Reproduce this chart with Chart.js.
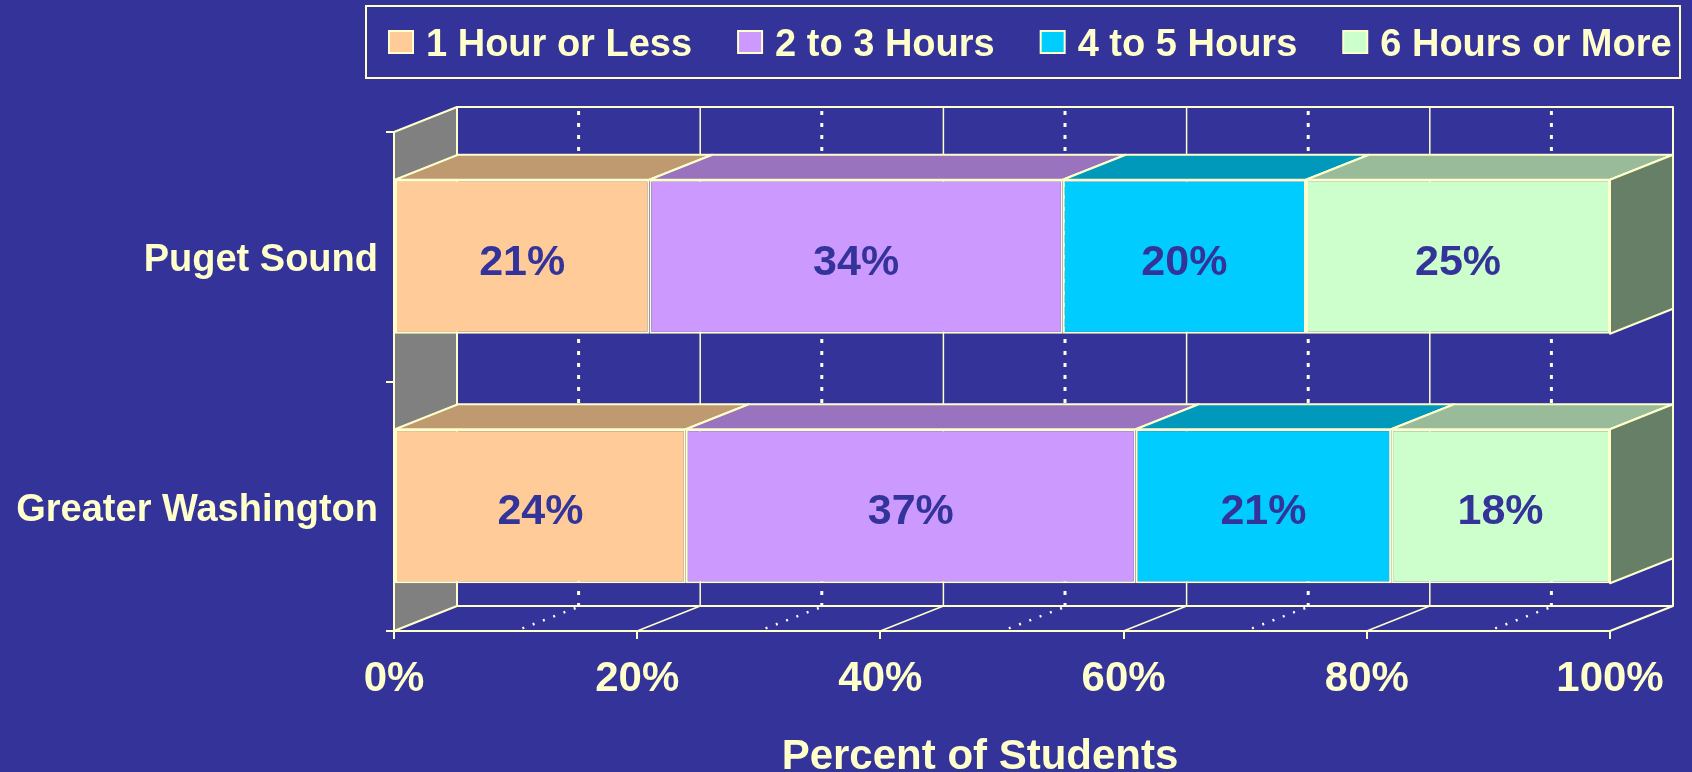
<!DOCTYPE html>
<html>
<head>
<meta charset="utf-8">
<title>Percent of Students</title>
<script src="https://cdn.jsdelivr.net/npm/chart.js@4.4.1/dist/chart.umd.min.js"></script>
<style>
  html, body { margin: 0; padding: 0; background: #333399; overflow: hidden; }
  #wrap { width: 1692px; height: 772px; position: relative; }
</style>
</head>
<body>
<div id="wrap"><canvas id="chart"></canvas></div>
<script>
// ---- data ----
const categories  = ["Puget Sound", "Greater Washington"];
const seriesNames = ["1 Hour or Less", "2 to 3 Hours", "4 to 5 Hours", "6 Hours or More"];
const oneHourOrLess = [21, 24];
const twoToThree    = [34, 37];
const fourToFive    = [20, 21];
const sixOrMore     = [25, 18];
const xTicks     = [0, 20, 40, 60, 80, 100];
const minorTicks = [10, 30, 50, 70, 90];
const axisTitle  = "Percent of Students";

// ---- style ----
const FRONT = ["#FFCC99", "#CC99FF", "#00CCFF", "#CCFFCC"];
const TOP   = ["#BF9970", "#9973BD", "#0099BB", "#99BB99"];
const SIDE  = "#667F66";
const WALL  = "#808080";
const INK   = "#FFFFCC";
const BG    = "#333399";
const FONT  = "'Liberation Sans', Arial, sans-serif";
const DX = 63, DY = 25;   // depth of the 3d box

const values = [oneHourOrLess, twoToThree, fourToFive, sixOrMore];

// back wall, side wall, floor, bar tops and the right end face
const box3d = {
  id: "box3d",
  beforeDatasetsDraw(chart) {
    const { ctx, chartArea: a, scales: { x } } = chart;
    const L = a.left, R = a.right, T = a.top, B = a.bottom;
    ctx.save();
    ctx.lineJoin = "round";
    ctx.strokeStyle = INK;
    ctx.lineWidth = 2;

    // left wall
    ctx.beginPath();
    ctx.moveTo(L, T); ctx.lineTo(L + DX, T - DY); ctx.lineTo(L + DX, B - DY); ctx.lineTo(L, B);
    ctx.closePath();
    ctx.fillStyle = WALL; ctx.fill(); ctx.stroke();

    // back wall outline + floor right edge
    ctx.beginPath();
    ctx.moveTo(L + DX, T - DY); ctx.lineTo(R + DX, T - DY); ctx.lineTo(R + DX, B - DY); ctx.lineTo(L + DX, B - DY);
    ctx.moveTo(R, B); ctx.lineTo(R + DX, B - DY);
    ctx.stroke();

    // major gridlines: back wall + floor
    ctx.lineWidth = 1.5;
    xTicks.slice(1, -1).forEach(v => {
      const px = x.getPixelForValue(v);
      ctx.beginPath();
      ctx.moveTo(px + DX, T - DY); ctx.lineTo(px + DX, B - DY); ctx.lineTo(px, B);
      ctx.stroke();
    });

    // minor dotted gridlines
    ctx.strokeStyle = "#FFFFEE";
    minorTicks.forEach(v => {
      const px = x.getPixelForValue(v);
      ctx.setLineDash([4, 8]); ctx.lineWidth = 3;
      ctx.beginPath(); ctx.moveTo(px + DX, T - DY + 4); ctx.lineTo(px + DX, B - DY); ctx.stroke();
      ctx.setLineDash([2, 9]); ctx.lineWidth = 2.5;
      ctx.beginPath(); ctx.moveTo(px + DX - 3, B - DY + 2); ctx.lineTo(px, B); ctx.stroke();
    });
    ctx.setLineDash([]);

    // bar tops and end face
    ctx.strokeStyle = INK;
    ctx.lineWidth = 2;
    const last = chart.data.datasets.length - 1;
    chart.data.datasets.forEach((ds, i) => {
      chart.getDatasetMeta(i).data.forEach(bar => {
        const p = bar.getProps(["x", "y", "base", "height"], true);
        const x0 = Math.min(p.base, p.x), x1 = Math.max(p.base, p.x);
        const top = p.y - p.height / 2, bot = p.y + p.height / 2;
        ctx.beginPath();
        ctx.moveTo(x0, top); ctx.lineTo(x1, top); ctx.lineTo(x1 + DX, top - DY); ctx.lineTo(x0 + DX, top - DY);
        ctx.closePath();
        ctx.fillStyle = TOP[i]; ctx.fill(); ctx.stroke();
        if (i === last) {
          ctx.beginPath();
          ctx.moveTo(x1, top); ctx.lineTo(x1 + DX, top - DY); ctx.lineTo(x1 + DX, bot - DY); ctx.lineTo(x1, bot);
          ctx.closePath();
          ctx.fillStyle = SIDE; ctx.fill(); ctx.stroke();
        }
      });
    });
    ctx.restore();
  },

  afterDatasetsDraw(chart) {
    const { ctx } = chart;
    ctx.save();
    ctx.font = "bold 43px " + FONT;
    ctx.fillStyle = BG;
    ctx.textAlign = "center";
    ctx.textBaseline = "middle";
    chart.data.datasets.forEach((ds, i) => {
      chart.getDatasetMeta(i).data.forEach((bar, j) => {
        const p = bar.getProps(["x", "y", "base"], true);
        ctx.fillText(ds.data[j] + "%", (p.x + p.base) / 2, p.y + 6);
      });
    });
    ctx.restore();
  },

  afterDraw(chart) {
    const { ctx, chartArea: a } = chart;
    ctx.save();
    // legend box
    ctx.strokeStyle = INK;
    ctx.lineWidth = 2;
    ctx.strokeRect(366, 6, 1314, 72);
    ctx.font = "bold 38px " + FONT;
    ctx.textBaseline = "middle";
    let lx = 389;
    chart.data.datasets.forEach((ds, i) => {
      ctx.fillStyle = ds.backgroundColor;
      ctx.fillRect(lx, 31, 24, 22);
      ctx.strokeRect(lx, 31, 24, 22);
      ctx.fillStyle = INK;
      ctx.fillText(ds.label, lx + 37, 46);
      lx += 37 + ctx.measureText(ds.label).width + 46;
    });
    // axis title
    ctx.font = "bold 42px " + FONT;
    ctx.textAlign = "center";
    ctx.fillText(axisTitle, (a.left + a.right) / 2 - 22, 757);
    ctx.restore();
  }
};

new Chart(document.getElementById("chart"), {
  type: "bar",
  data: {
    labels: categories,
    datasets: seriesNames.map((name, i) => ({
      label: name,
      data: values[i],
      backgroundColor: FRONT[i],
      borderColor: INK,
      borderWidth: 2,
      borderSkipped: false,
      categoryPercentage: 1,
      barPercentage: 0.617
    }))
  },
  options: {
    indexAxis: "y",
    responsive: true,
    maintainAspectRatio: false,
    animation: false,
    layout: { padding: { top: 132, right: 82, left: 0, bottom: 0 } },
    plugins: { legend: { display: false }, tooltip: { enabled: false } },
    scales: {
      x: {
        stacked: true, min: 0, max: 100,
        grid: { drawOnChartArea: false, tickLength: 8, color: INK, lineWidth: 2 },
        border: { color: INK, width: 2 },
        ticks: { color: INK, font: { family: FONT, size: 42, weight: "bold" }, padding: 15, maxRotation: 0, autoSkip: false, callback: v => v + "%" },
        afterBuildTicks: s => { s.ticks = xTicks.map(v => ({ value: v })); },
        afterFit: s => { s.height = 141; }
      },
      y: {
        stacked: true,
        grid: { drawOnChartArea: false, offset: true, tickLength: 8, color: INK, lineWidth: 2 },
        border: { color: INK, width: 2 },
        ticks: { color: INK, font: { family: FONT, size: 38, weight: "bold" }, padding: 8, labelOffset: 4 },
        afterFit: s => { s.width = 394; }
      }
    }
  },
  plugins: [box3d]
});
</script>
</body>
</html>
